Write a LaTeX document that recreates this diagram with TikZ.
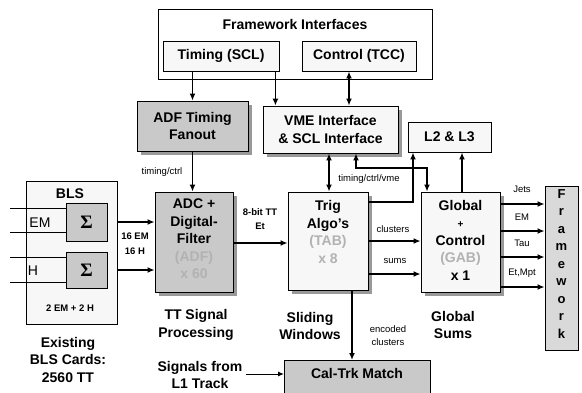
\documentclass[tikz,border=0pt]{standalone}
\usepackage{fontspec}
\setmainfont{Liberation Sans}
\newfontfamily\sigfont{Liberation Serif}
\usetikzlibrary{arrows.meta,shadows}
\begin{document}
\begin{tikzpicture}[x=1pt,y=-1pt,
  box/.style={draw=black, line width=0.9pt, inner sep=0pt, fill=gray!6},
  dark/.style={box, fill=gray!42},
  shad/.style={drop shadow={shadow xshift=4pt, shadow yshift=-4pt, fill=gray!80, opacity=1}},
  big/.style={font=\bfseries\fontsize{14}{17.5}\selectfont, align=center, inner sep=0pt},
  small/.style={font=\fontsize{9.5}{13}\selectfont, align=center, inner sep=0pt},
  arr/.style={line width=1.6pt, -{Latex[length=7pt,width=6pt]}},
  darr/.style={line width=1.6pt, {Latex[length=7pt,width=6pt]}-{Latex[length=7pt,width=6pt]}},
  thinl/.style={line width=1pt},
  dim/.style={text=gray!55}
]
\useasboundingbox[fill=white] (0,0) rectangle (582,392);

% top framework interfaces
\node[box, fill=white, line width=1pt, minimum width=274pt, minimum height=70pt] (fwout) at (295,44) {};
\node[big] (fwtitle) at (295,24) {Framework Interfaces};
\node[box, big, minimum width=116pt, minimum height=30pt] (timing) at (221,56) {Timing (SCL)};
\node[box, big, minimum width=114pt, minimum height=30pt] (control) at (359,56) {Control (TCC)};

% second row
\node[dark, shad, big, minimum width=111pt, minimum height=50pt] (adft) at (192.5,126) {ADF Timing\\Fanout};
\node[box, shad, big, minimum width=135pt, minimum height=47pt] (vme) at (330.5,129.5) {VME Interface\\\& SCL Interface};
\node[box, big, minimum width=83pt, minimum height=30pt] (l23) at (449.5,137) {L2 \& L3};

% BLS
\node[box, minimum width=91pt, minimum height=143pt] (bls) at (71.5,252.5) {};
\node[big] (blstitle) at (70,194) {BLS};
\node[dark, minimum width=41pt, minimum height=38pt, font=\sigfont\bfseries\fontsize{19}{19}\selectfont] (sig1) at (86.5,222) {Σ};
\node[dark, minimum width=41pt, minimum height=36pt, font=\sigfont\bfseries\fontsize{19}{19}\selectfont] (sig2) at (86.5,270) {Σ};
\node[font=\fontsize{14}{14}\selectfont, inner sep=0pt] (emlab) at (40,223) {EM};
\node[font=\fontsize{14}{14}\selectfont, inner sep=0pt] (hlab) at (33,271) {H};
\node[small, font=\bfseries\fontsize{9.5}{13}\selectfont] (blsmix) at (70,308) {2 EM + 2 H};
\coordinate (in1) at (10,208);
\coordinate (in2) at (10,232);
\coordinate (in3) at (10,257);
\coordinate (in4) at (10,282);
\draw[thinl] (in1) -- (in1 -| sig1.west);
\draw[thinl] (in2) -- (in2 -| sig1.west);
\draw[thinl] (in3) -- (in3 -| sig2.west);
\draw[thinl] (in4) -- (in4 -| sig2.west);

% main boxes
\node[dark, shad, minimum width=78pt, minimum height=100pt] (adc) at (194,242) {};
\node[big] (adctxt) at (194,239) {ADC +\\Digital-\\Filter\\\textcolor{gray!60}{(ADF)}\\\textcolor{gray!60}{x 60}};
\node[box, shad, minimum width=80pt, minimum height=98pt] (trig) at (328,241) {};
\node[big] (trigtxt) at (328,232) {Trig\\Algo's\\\textcolor{gray!60}{(TAB)}\\\textcolor{gray!60}{x 8}};
\node[box, shad, minimum width=79pt, minimum height=100pt] (glob) at (460.5,242) {};
\node[big] (globtxt) at (460.5,240) {Global\\{\fontsize{10}{10}\selectfont +}\\Control\\\textcolor{gray!60}{(GAB)}\\x 1};
\node[box, fill=gray!30, minimum width=33pt, minimum height=164pt] (fw) at (561.5,268) {};
\node[big, font=\bfseries\fontsize{13}{17.5}\selectfont] (fwtxt) at (561.5,264) {F\\r\\a\\m\\e\\w\\o\\r\\k};
\node[dark, minimum width=146pt, minimum height=36pt, anchor=north west] (caltrk) at (284,360) {};
\node[big] (caltxt) at (357,373) {Cal-Trk Match};

% captions
\node[big] (ttsp) at (196,325) {TT Signal\\Processing};
\node[big] (slw) at (310,326) {Sliding\\Windows};
\node[big] (gls) at (453,325) {Global\\Sums};
\node[big, anchor=north] (exist) at (68,337) {Existing\\BLS Cards:\\2560 TT};
\node[big] (sigl1) at (200,375) {Signals from\\L1 Track};

% small labels
\node[small] (ltc) at (162,172) {timing/ctrl};
\node[small] (ltcv) at (369,179) {timing/ctrl/vme};
\node[small, font=\bfseries\fontsize{9.5}{14}\selectfont] (l8b) at (260,219) {8-bit TT\\Et};
\node[small, font=\bfseries\fontsize{9.5}{15}\selectfont] (l16) at (135,244) {16 EM\\16 H};
\node[small] (lclu) at (393,229) {clusters};
\node[small] (lsum) at (395,261) {sums};
\node[small] (ljet) at (522,189) {Jets};
\node[small] (lem) at (522,217) {EM};
\node[small] (ltau) at (522,243) {Tau};
\node[small] (letm) at (522,273) {Et,Mpt};
\node[small] (lenc) at (388,336) {encoded\\clusters};

% connectors
\draw[arr] (adft.north |- timing.south) -- (adft.north);
\draw[arr] ([xshift=-4pt]timing.south east) -- ([xshift=-4pt]timing.south east |- vme.north);
\draw[darr] ([xshift=-10pt]control.south) -- ([xshift=-10pt]control.south |- vme.north);
\draw[arr] (adft.south) -- (adft.south |- adc.north);
\draw[arr] (bls.east |- sig1) -- (adc.west |- sig1);
\draw[arr] (bls.east |- sig2) -- (adc.west |- sig2);
\draw[arr] (adc.east |- 0,243) -- (trig.west |- 0,243);
\draw[arr] (trig.east |- 0,241) -- (glob.west |- 0,241);
\draw[arr] (trig.east |- 0,274) -- (glob.west |- 0,274);
\draw[arr] (glob.east |- 0,204) -- (fw.west |- 0,204);
\draw[arr] (glob.east |- 0,231) -- (fw.west |- 0,231);
\draw[arr] (glob.east |- 0,257) -- (fw.west |- 0,257);
\draw[arr] (glob.east |- 0,287) -- (fw.west |- 0,287);
\draw[arr] (trig.south -| 352,0) -- (caltrk.north -| 352,0);
\coordinate (s1) at (246,374);
\draw[thinl, -{Latex[length=6pt,width=5pt]}] (s1) -- (caltrk.west |- s1);
\draw[darr] (vme.south -| 329,0) -- (trig.north -| 329,0);
\coordinate (v1) at (356,168);
\coordinate (v2) at (427,168);
\draw[darr] (v1 |- vme.south) -- (v1) -- (v2) -- (v2 |- glob.north);
\coordinate (t2) at (413,202);
\draw[arr] (trig.east |- t2) -- (t2) -- (t2 |- l23.south);
\draw[arr] (glob.north -| 462,0) -- (l23.south -| 462,0);
\end{tikzpicture}
\end{document}
